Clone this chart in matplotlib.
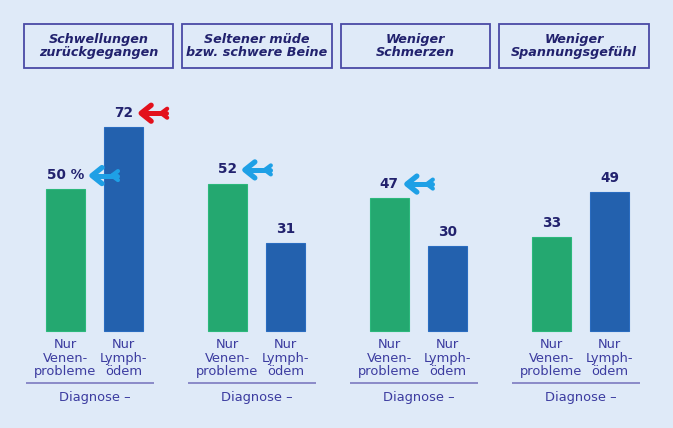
import matplotlib
matplotlib.use("Agg")
import matplotlib.pyplot as plt
from matplotlib.patches import Rectangle
import numpy as np

# ---- data ----
titles = ["Schwellungen\nzurückgegangen", "Seltener müde\nbzw. schwere Beine",
          "Weniger\nSchmerzen", "Weniger\nSpannungsgefühl"]
venen = [50, 52, 47, 33]
lymph = [72, 31, 30, 49]
cat_labels = ["Nur\nVenen-\nprobleme", "Nur\nLymph-\nödem"]
axis_label = "Diagnose –"
# highlighted values: (group, series, colour)
highlights = [(0, "lymph", "#e3101c"), (0, "venen", "#1ea0e6"),
              (1, "venen", "#1ea0e6"), (2, "venen", "#1ea0e6")]

BG = "#dfeaf8"
GREEN = "#24a870"
BLUE = "#2361ae"
NAVY = "#22226e"
LABEL = "#3c3ca0"
BOX = "#4a4aa6"

W, H = 673, 428
fig = plt.figure(figsize=(W / 100, H / 100), dpi=100, facecolor=BG)
ax = fig.add_axes([0, 0, 1, 1])
ax.set_facecolor(BG)
ax.axis("off")

spacing_px = 162.0
x0_px = 94.5
pxu = 2.835  # px per value unit
base_px = 331  # from top
ax.set_xlim(-x0_px / spacing_px, (W - x0_px) / spacing_px)
ax.set_ylim(-(H - base_px) / pxu, base_px / pxu)

x = np.arange(len(titles))
off = 0.18
bw = 0.24
ax.bar(x - off, venen, width=bw, color=GREEN, edgecolor="#2cb87c", linewidth=0.8)
ax.bar(x + off, lymph, width=bw, color=BLUE, edgecolor="#2a6cc0", linewidth=0.8)

texts = {}
for i in range(len(titles)):
    for key, vals, dx in (("venen", venen, -off), ("lymph", lymph, off)):
        v = vals[i]
        s = f"{v} %" if (i == 0 and key == "venen") else f"{v}"
        t = ax.text(i + dx, v + 5.0, s, ha="center", va="center",
                    fontsize=9.8, fontweight="bold", color=NAVY)
        texts[(i, key)] = t
    # category labels
    for dx, lab in zip((-off, off), cat_labels):
        ax.text(i + dx, -2.6, lab, ha="center", va="top", fontsize=9.4,
                color=LABEL, linespacing=1.02)
    # separator line
    ax.plot([i - 0.03 - 0.395, i - 0.03 + 0.395], [-18.4, -18.4],
            color="#8a8ac8", lw=1.4, solid_capstyle="butt")
    ax.text(i, -23.4, axis_label, ha="center", va="center", fontsize=9.4,
            color=LABEL)
    # title box
    bwid = 0.92
    bc = 4.0 / spacing_px + i * 158.5 / spacing_px
    ax.add_patch(Rectangle((bc - bwid / 2, 92.8), bwid, 15.5, facecolor="none",
                           edgecolor=BOX, lw=1.3))
    ax.text(bc, 100.5, titles[i], ha="center", va="center", fontsize=9.2,
            fontweight="bold", style="italic", color=NAVY, linespacing=1.0)

fig.canvas.draw()
r = fig.canvas.get_renderer()
for (i, key, col) in highlights:
    t = texts[(i, key)]
    bb = t.get_window_extent(r)
    yc = (bb.y0 + bb.y1) / 2 - 0.5
    tip = bb.x1 + 8
    tail = tip + 25
    kw = dict(color=col, transform=None, solid_capstyle="round",
              solid_joinstyle="round")
    # shaft
    ax.plot([tip + 2, tail], [yc, yc], lw=3.6, **kw)
    # head
    ax.plot([tip + 10, tip, tip + 10], [yc + 8, yc, yc - 8], lw=3.8, **kw)
    # tail fletching
    ax.plot([tail - 5, tail + 1], [yc, yc + 4.5], lw=3.0, **kw)
    ax.plot([tail - 5, tail + 1], [yc, yc - 4.5], lw=3.0, **kw)

fig.savefig("out.png", dpi=100, facecolor=BG)
